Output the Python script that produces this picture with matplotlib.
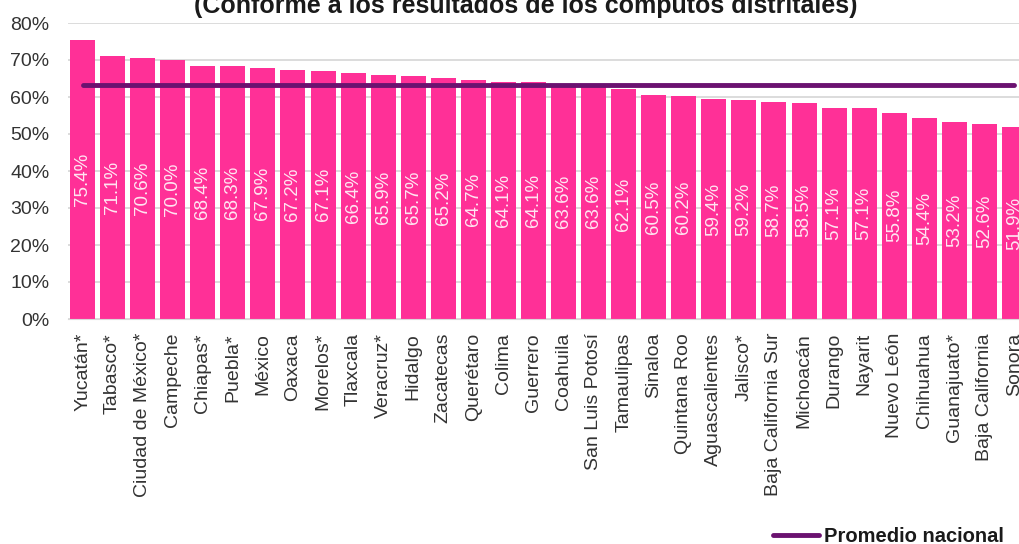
import numpy as np
import matplotlib.pyplot as plt

plt.rcParams['font.family'] = ['Liberation Sans', 'DejaVu Sans']

# Data
states = ['Yucatán*', 'Tabasco*', 'Ciudad de México*', 'Campeche', 'Chiapas*',
          'Puebla*', 'México', 'Oaxaca', 'Morelos*', 'Tlaxcala', 'Veracruz*',
          'Hidalgo', 'Zacatecas', 'Querétaro', 'Colima', 'Guerrero', 'Coahuila',
          'San Luis Potosí', 'Tamaulipas', 'Sinaloa', 'Quintana Roo',
          'Aguascalientes', 'Jalisco*', 'Baja California Sur', 'Michoacán',
          'Durango', 'Nayarit', 'Nuevo León', 'Chihuahua', 'Guanajuato*',
          'Baja California', 'Sonora']
participation = [75.4, 71.1, 70.6, 70.0, 68.4, 68.3, 67.9, 67.2, 67.1, 66.4,
                 65.9, 65.7, 65.2, 64.7, 64.1, 64.1, 63.6, 63.6, 62.1, 60.5,
                 60.2, 59.4, 59.2, 58.7, 58.5, 57.1, 57.1, 55.8, 54.4, 53.2,
                 52.6, 51.9]
national_avg = 63.3
y_ticks = [0, 10, 20, 30, 40, 50, 60, 70, 80]

title = '(Conforme a los resultados de los cómputos distritales)'

bar_color = '#ff3097'
line_color = '#6b1270'
text_color = '#333333'

W, H = 1019, 544
fig = plt.figure(figsize=(W / 100, H / 100), dpi=100)
ax = fig.add_axes([67.5 / W, 225 / H, 962 / W, 296 / H])

x = np.arange(len(states))
ax.bar(x, participation, width=0.83, color=bar_color, zorder=2)

# value labels, rotated, centred in each bar
for xi, v in zip(x, participation):
    ax.text(xi, v / 2, f'{v:.1f}%', rotation=90, ha='center', va='center',
            color='#ffe6f2', fontsize=13.5, zorder=4)

avg_line, = ax.plot([x[0], x[-1]], [national_avg, national_avg],
                    color=line_color, lw=3.5, solid_capstyle='round', zorder=3)

ax.set_xlim(-0.5, len(states) - 0.5)
ax.set_ylim(0, 80)
ax.set_yticks(y_ticks)
ax.set_yticklabels([f'{t}%' for t in y_ticks])
ax.set_xticks(x)
ax.set_xticklabels(states, rotation=90)
ax.tick_params(axis='y', length=0, pad=13, labelsize=14, labelcolor=text_color)
ax.tick_params(axis='x', length=0, pad=10, labelsize=14, labelcolor=text_color)

ax.yaxis.grid(True, color='#d9d9d9', lw=1.3, zorder=0)
ax.set_axisbelow(True)
for side in ['top', 'right', 'left']:
    ax.spines[side].set_visible(False)
ax.spines['bottom'].set_color('#d9d9d9')

fig.text(526 / W, 1 - 13.5 / H, title, ha='center', va='baseline',
         fontsize=18, fontweight='bold', color='#1a1a1a')

fig.legend([avg_line], ['Promedio nacional'], loc='center left',
           bbox_to_anchor=(773 / W, 7 / H), frameon=False, borderpad=0,
           borderaxespad=0, handlelength=2.3, handletextpad=0.25,
           prop={'weight': 'bold', 'size': 14.5}, labelcolor='#1a1a1a')

fig.savefig('out.png', dpi=100)
